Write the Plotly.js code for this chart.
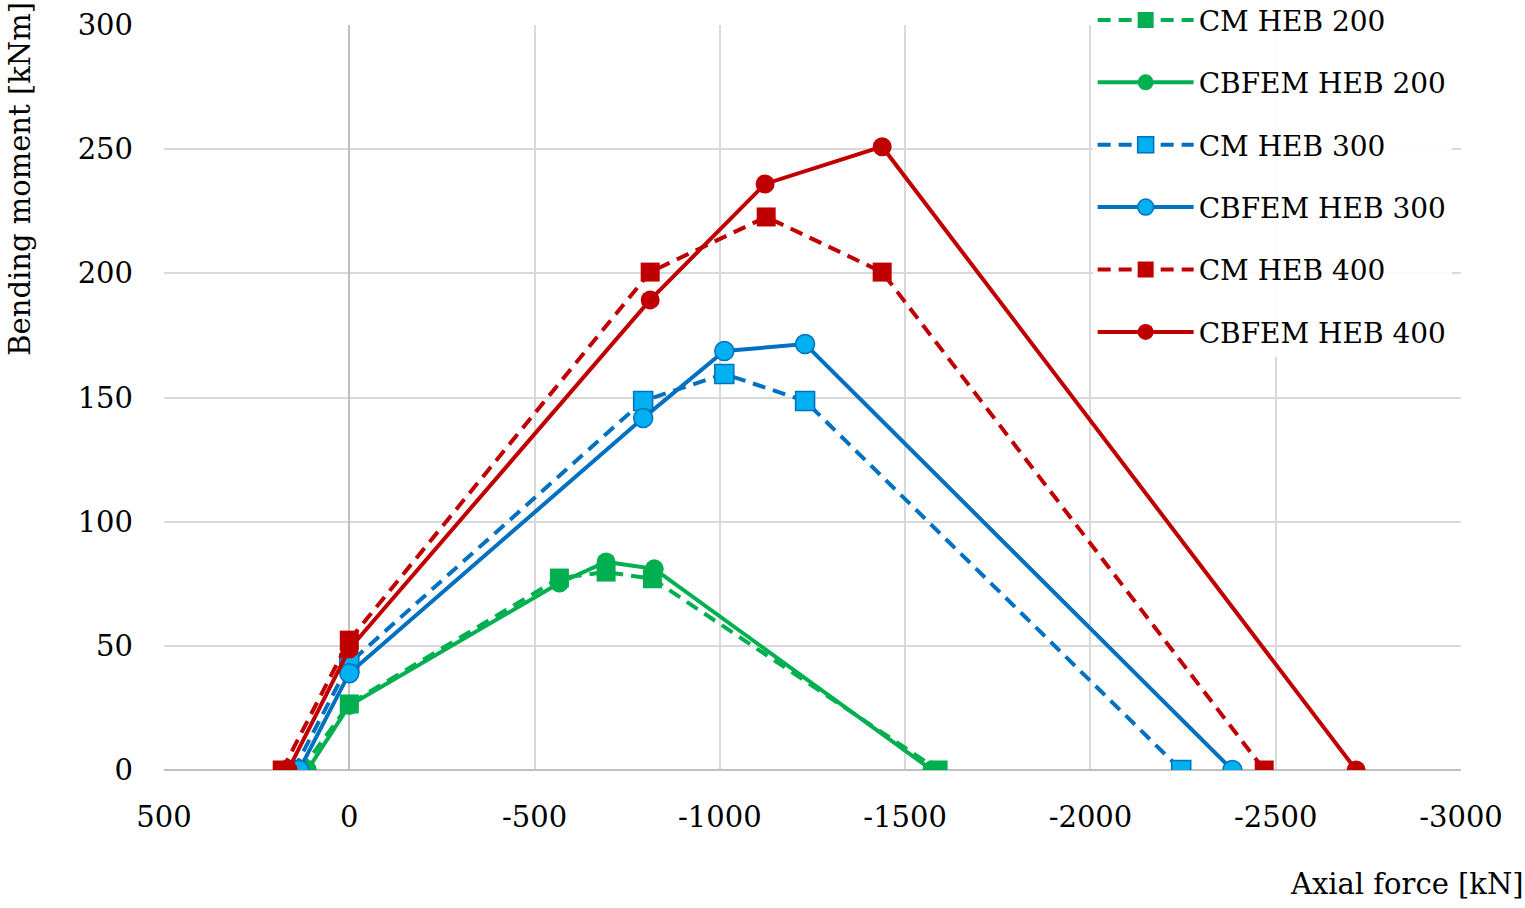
<!DOCTYPE html>
<html>
<head>
<meta charset="utf-8">
<script src="https://cdn.plot.ly/plotly-3.0.1.min.js"></script>
<style>
  html, body { margin: 0; padding: 0; background: #fff; }
  #plotDiv { width: 1525px; height: 908px; }
</style>
</head>
<body>
<div id="plotDiv"></div>
<script>
// values: axial force [kN], bending moment [kNm]
const cm200X = [130, 0, -567, -693, -818, -1589];
const cm200Y = [0, 26.6, 77.3, 79.7, 77, 0];
const fem200X = [113, 0, -567, -693, -823, -1572];
const fem200Y = [0, 26, 75.3, 83.8, 81, 0];

const cm300X = [150, 0, -793, -1012, -1230, -2245];
const cm300Y = [0, 43, 148.6, 159.5, 148.6, 0];
const fem300X = [135, 0, -793, -1012, -1230, -2383];
const fem300Y = [0, 39, 141.7, 168.7, 171.5, 0];

const cm400X = [181, 0, -812, -1125, -1438, -2469];
const cm400Y = [0, 52.3, 200.5, 222.7, 200.5, 0];
const fem400X = [165, 0, -812, -1122, -1438, -2717];
const fem400Y = [0, 48.7, 189.3, 236, 251, 0];

const seriesNames = ['CM HEB 200', 'CBFEM HEB 200', 'CM HEB 300', 'CBFEM HEB 300', 'CM HEB 400', 'CBFEM HEB 400'];

// tick labels use a plain hyphen like the original
const xTickVals = [500, 0, -500, -1000, -1500, -2000, -2500, -3000];
const xTickText = ['500', '0', '-500', '-1000', '-1500', '-2000', '-2500', '-3000'];

const green = '#00B050';
const blue = '#0070C0';
const lightBlue = '#00B0F0';
const red = '#C00000';
const font = 'DejaVu Serif, Liberation Serif, serif';

function series(name, x, y, color, fill, dashed, symbol) {
    return {
        name: name,
        x: x,
        y: y,
        mode: 'lines+markers',
        type: 'scatter',
        legendgroup: name,
        line: { color: color, width: 4, dash: dashed ? '13px,8px' : 'solid' },
        marker: {
            symbol: symbol,
            size: 19,
            color: fill,
            line: { color: color, width: fill === color ? 0 : 1.5 }
        }
    };
}

const data = [
    series(seriesNames[0], cm200X, cm200Y, green, green, true, 'square'),
    series(seriesNames[1], fem200X, fem200Y, green, green, false, 'circle'),
    series(seriesNames[2], cm300X, cm300Y, blue, lightBlue, true, 'square'),
    series(seriesNames[3], fem300X, fem300Y, blue, lightBlue, false, 'circle'),
    series(seriesNames[4], cm400X, cm400Y, red, red, true, 'square'),
    series(seriesNames[5], fem400X, fem400Y, red, red, false, 'circle')
];

const layout = {
    width: 1525,
    height: 908,
    margin: { l: 164, r: 64, t: 25, b: 138, autoexpand: false },
    paper_bgcolor: '#fff',
    plot_bgcolor: '#fff',
    font: { family: font, size: 29, color: '#000' },
    showlegend: true,
    xaxis: {
        range: [500, -3000],
        tickmode: 'array',
        tickvals: xTickVals,
        ticktext: xTickText,
        showgrid: true,
        gridcolor: '#d9d9d9',
        gridwidth: 2,
        zeroline: true,
        zerolinecolor: '#bfbfbf',
        zerolinewidth: 2,
        showline: false,
        ticks: '',
        ticklabelstandoff: 27,
        tickfont: { family: font, size: 29 }
    },
    yaxis: {
        range: [0, 300],
        dtick: 50,
        showgrid: true,
        gridcolor: '#d9d9d9',
        gridwidth: 2,
        zeroline: true,
        zerolinecolor: '#bfbfbf',
        zerolinewidth: 2,
        showline: false,
        ticks: '',
        ticklabelstandoff: 30,
        tickfont: { family: font, size: 29 }
    },
    legend: {
        x: 0.716,
        y: 1.04,
        xanchor: 'left',
        yanchor: 'top',
        bgcolor: 'rgba(255,255,255,0.88)',
        borderwidth: 0,
        traceorder: 'grouped',
        tracegroupgap: 23,
        itemwidth: 96,
        font: { family: font, size: 28 }
    },
    annotations: [
        {
            text: 'Bending moment [kNm]',
            xref: 'paper', yref: 'paper',
            x: -0.111, y: 1.034,
            xanchor: 'center', yanchor: 'top',
            textangle: -90,
            showarrow: false,
            font: { family: font, size: 29 }
        },
        {
            text: 'Axial force [kN]',
            xref: 'paper', yref: 'paper',
            x: 1.05, y: -0.153,
            xanchor: 'right', yanchor: 'middle',
            showarrow: false,
            font: { family: font, size: 29 }
        }
    ]
};

Plotly.newPlot('plotDiv', data, layout, { displayModeBar: false, staticPlot: true });
</script>
</body>
</html>
